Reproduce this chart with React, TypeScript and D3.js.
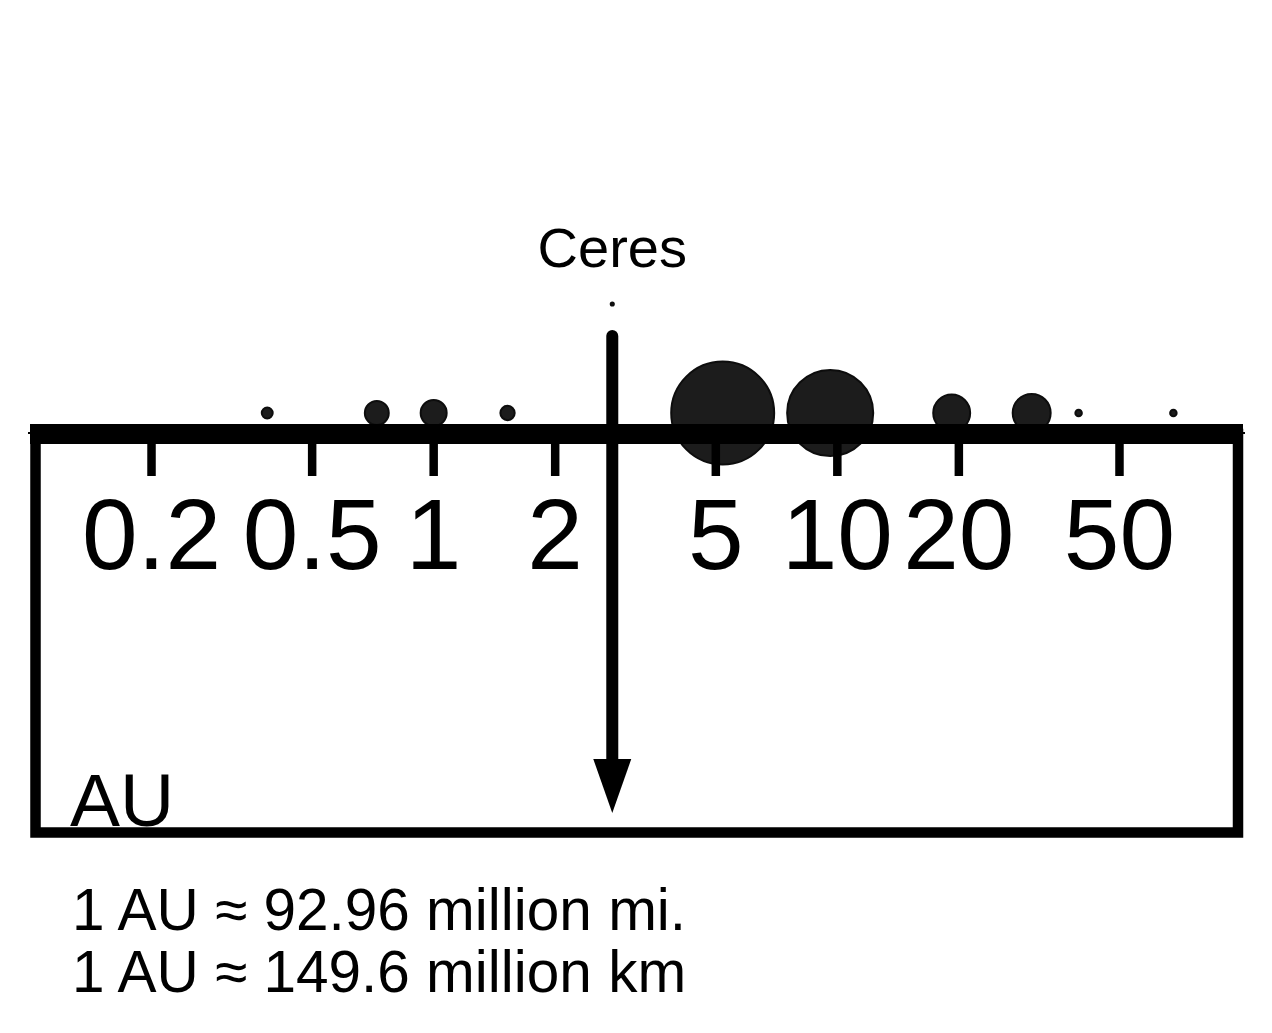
import React, { useEffect, useRef } from "react";
import * as d3 from "d3";

// distances in AU, sizes relative to Earth as drawn
const bodyNames = ["Mercury", "Venus", "Earth", "Mars", "Jupiter", "Saturn", "Uranus", "Neptune", "Pluto", "Eris"];
const bodyAU = [0.387, 0.723, 1.0, 1.524, 5.2, 9.6, 19.2, 30.3, 39.6, 68];
const bodySize = [0.42, 0.92, 1.0, 0.55, 3.96, 3.31, 1.42, 1.46, 0.25, 0.25];

const ceresName = "Ceres";
const ceresAU = 2.77;
const ceresSize = 0.12;

const tickValues = [0.2, 0.5, 1, 2, 5, 10, 20, 50];
const unitLabel = "AU";
const noteLines = ["1 AU ≈ 92.96 million mi.", "1 AU ≈ 149.6 million km"];

export default function App() {
    const ref = useRef<SVGSVGElement>(null);

    useEffect(() => {
        const width = 1272, height = 1033;
        const axisY = 434;
        const font = "'Liberation Sans', Arial, sans-serif";

        const svg = d3.select(ref.current);
        svg.selectAll("*").remove();
        svg.attr("width", width).attr("height", height);

        const x = d3.scaleLog().domain([0.1, 100]).range([30, 1241]);
        const r = d3.scaleLinear().domain([0, 1]).range([0, 13]);

        const bodies = bodyNames.map((name, i) => ({ name, au: bodyAU[i], size: bodySize[i] }));

        // frame
        svg.append("rect")
            .attr("x", 35.5).attr("y", axisY)
            .attr("width", 1202.5).attr("height", 398.5)
            .attr("fill", "none").attr("stroke", "#000").attr("stroke-width", 10.5);

        // planets (behind the axis bar)
        svg.append("g")
            .selectAll("circle")
            .data(bodies)
            .enter()
            .append("circle")
            .attr("cx", d => x(d.au))
            .attr("cy", 413)
            .attr("r", d => r(d.size))
            .attr("fill", "#1c1c1c")
            .attr("stroke", "#0d0d0d")
            .attr("stroke-width", 2);

        // thin domain line + heavy bar
        svg.append("line")
            .attr("x1", 28).attr("x2", 1245)
            .attr("y1", axisY - 1).attr("y2", axisY - 1)
            .attr("stroke", "#000").attr("stroke-width", 2);
        svg.append("rect")
            .attr("x", 30).attr("y", 424)
            .attr("width", 1213).attr("height", 20)
            .attr("fill", "#000");

        // ticks & labels
        const ticks = svg.append("g");
        ticks.selectAll("line")
            .data(tickValues)
            .enter()
            .append("line")
            .attr("x1", d => x(d)).attr("x2", d => x(d))
            .attr("y1", 444).attr("y2", 476)
            .attr("stroke", "#000").attr("stroke-width", 8.5);
        ticks.selectAll("text")
            .data(tickValues)
            .enter()
            .append("text")
            .attr("x", d => x(d))
            .attr("y", 569)
            .attr("text-anchor", "middle")
            .attr("font-family", font)
            .attr("font-size", 100)
            .text(d => String(d));

        // Ceres arrow
        const cx = x(ceresAU);
        svg.append("line")
            .attr("x1", cx).attr("x2", cx)
            .attr("y1", 336).attr("y2", 765)
            .attr("stroke", "#000").attr("stroke-width", 12)
            .attr("stroke-linecap", "round");
        svg.append("path")
            .attr("d", `M${cx - 19},759 L${cx + 19},759 L${cx},813 Z`)
            .attr("fill", "#000");
        svg.append("circle")
            .attr("cx", cx).attr("cy", 304)
            .attr("r", r(ceresSize))
            .attr("fill", "#1c1c1c").attr("stroke", "#0d0d0d").attr("stroke-width", 2);
        svg.append("text")
            .attr("x", cx).attr("y", 267)
            .attr("text-anchor", "middle")
            .attr("font-family", font)
            .attr("font-size", 56)
            .text(ceresName);

        // unit label
        svg.append("text")
            .attr("x", 70).attr("y", 826)
            .attr("font-family", font)
            .attr("font-size", 75)
            .text(unitLabel);

        // conversion notes
        svg.append("g")
            .selectAll("text")
            .data(noteLines)
            .enter()
            .append("text")
            .attr("x", 72)
            .attr("y", (d, i) => 930 + i * 62)
            .attr("font-family", font)
            .attr("font-size", 58.5)
            .text(d => d);
    }, []);

    return (
        <div>
            <svg ref={ref} style={{ position: "absolute", left: 0, top: 0 }}></svg>
        </div>
    );
}
